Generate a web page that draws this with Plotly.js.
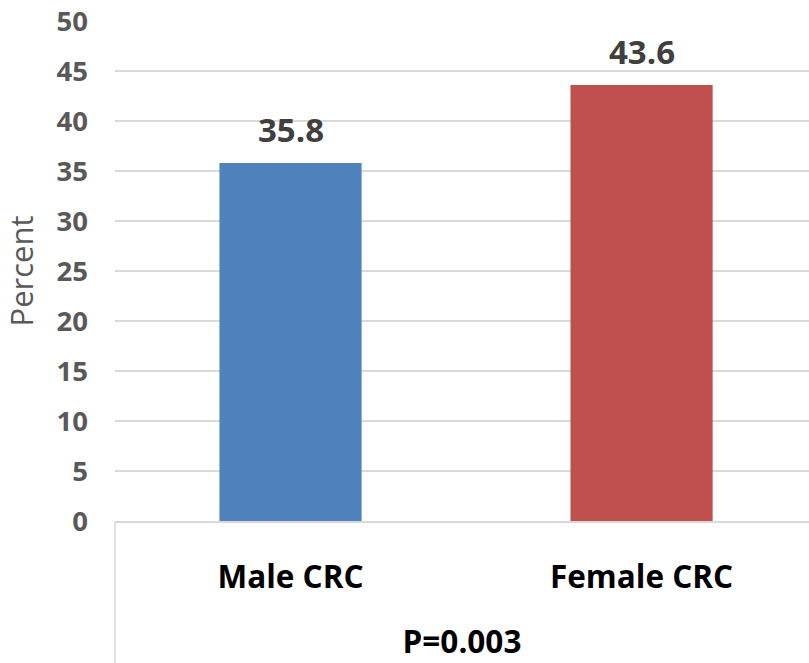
<!DOCTYPE html>
<html>
<head>
<meta charset="utf-8">
<script src="https://cdn.plot.ly/plotly-3.0.1.min.js"></script>
<style>html,body{margin:0;padding:0;background:#fff;}#chart{width:809px;height:663px;}</style>
</head>
<body>
<div id="chart"></div>
<script>
const categories = ["Male CRC", "Female CRC"];
const percentValues = [35.8, 43.6];
const barColors = ["#4F81BD", "#C0504D"];
const yTickValues = [0, 5, 10, 15, 20, 25, 30, 35, 40, 45, 50];

const FONT = "Open Sans, Lato, Liberation Sans, sans-serif";

const trace = {
  type: "bar",
  x: categories,
  y: percentValues,
  marker: { color: barColors },
  width: 0.405,
  hoverinfo: "none"
};

const annotations = categories.map((c, i) => ({
  x: c, y: percentValues[i], xref: "x", yref: "y",
  text: "<b>" + percentValues[i].toFixed(1) + "</b>",
  showarrow: false, yanchor: "bottom", yshift: 9,
  font: { family: FONT, size: 33, color: "#404040" }
}));

const layout = {
  width: 809, height: 663,
  margin: { l: 115, r: 0, t: 21, b: 142, pad: 0 },
  paper_bgcolor: "#fff", plot_bgcolor: "#fff",
  showlegend: false,
  xaxis: {
    type: "category",
    range: [-0.5, 1.477],
    showline: true, linecolor: "#d9d9d9", linewidth: 1.5,
    showgrid: false, ticks: "",
    ticklabelstandoff: 28,
    tickfont: { family: FONT, size: 31.5, color: "#000", weight: "bold" },
    title: { text: "<b>P=0.003</b>", standoff: 34, font: { family: FONT, size: 31.5, color: "#000" } },
    fixedrange: true
  },
  yaxis: {
    range: [0, 50],
    tickvals: yTickValues,
    ticktext: yTickValues.map(v => "<b>" + v + "</b>"),
    showgrid: true, gridcolor: "#d9d9d9", gridwidth: 1.5,
    zeroline: false, showline: false, ticks: "",
    ticklabelstandoff: 26,
    tickfont: { family: FONT, size: 27.5, color: "#595959" },
    title: { text: "Percent", standoff: 22, font: { family: FONT, size: 31, color: "#595959" } },
    fixedrange: true
  },
  annotations: annotations,
  shapes: [{
    type: "line", xref: "paper", yref: "paper",
    x0: 0, x1: 0, y0: 0, y1: -0.3,
    line: { color: "#d9d9d9", width: 1.5 }
  }]
};

Plotly.newPlot("chart", [trace], layout, { staticPlot: true, displayModeBar: false });
</script>
</body>
</html>
